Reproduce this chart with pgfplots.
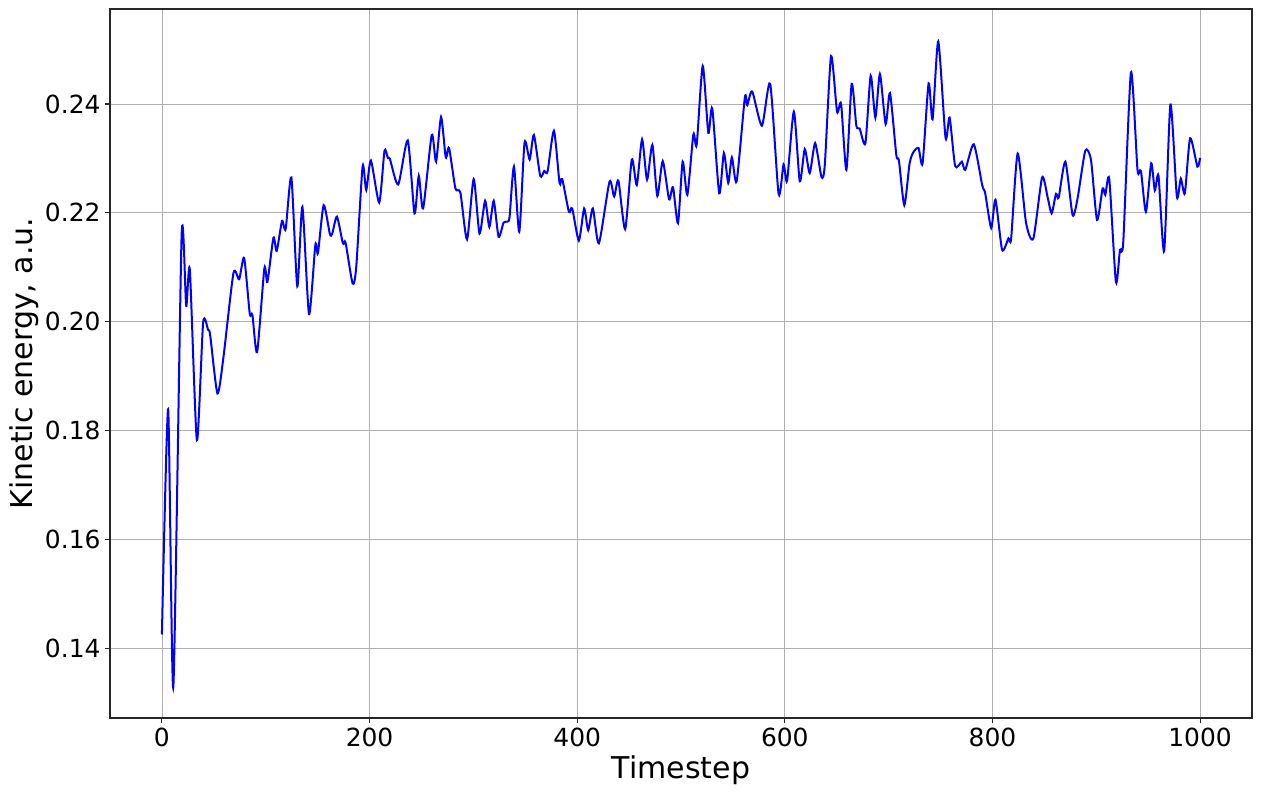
\documentclass[border=0pt]{standalone}
\usepackage{fontspec}
\setmainfont{DejaVu Sans}
\usepackage{pgfplots}
\pgfplotsset{compat=1.18}
\definecolor{GridGray}{HTML}{B0B0B0}
\definecolor{LineBlue}{HTML}{0000FF}

\begin{document}
\begin{tikzpicture}
  \begin{axis}[
    name=ax,
    width=856.5pt, height=531.75pt,
    scale only axis,
    xmin=-50, xmax=1050,
    ymin=0.12715, ymax=0.25746,
    xtick={0,200,...,1000},
    ytick={0.14,0.16,0.18,0.20,0.22,0.24},
    xticklabel style={/pgf/number format/.cd, 1000 sep={}},
    yticklabel style={/pgf/number format/.cd, fixed, fixed zerofill, precision=2},
    /pgf/number format/assume math mode=true,
    tick label style={font=\fontsize{18.7}{22}\selectfont},
    label style={font=\fontsize{22.5}{27}\selectfont},
    xlabel={Timestep},
    ylabel={Kinetic energy, a.u.},
    xlabel style={at={(axis description cs:0.5,-0.0733)}, anchor=center},
    ylabel style={at={(axis description cs:-0.0755,0.5)}, anchor=center},
    grid=major,
    major grid style={GridGray, line width=0.6pt},
    axis line style={black!85, line width=0.8pt},
    tick align=outside,
    major tick length=3.6pt,
    tick style={black!85, line width=0.8pt},
    xtick pos=bottom, ytick pos=left,
    clip=true,
  ]
    \addplot[LineBlue, line width=1.5pt, smooth, tension=0.4] coordinates {
      (0,0.1425) (6,0.1839) (11,0.1329) (19,0.2159) (23.4,0.2029) (26.9,0.2095)
      (33.7,0.1782) (39.7,0.1998) (44.5,0.1985) (46.5,0.1975) (53.5,0.1868)
      (59.3,0.1935) (68.9,0.2089) (74.4,0.2078) (79.2,0.2117) (84.6,0.2015)
      (87.2,0.2012) (91.7,0.1944) (98.7,0.2098) (101.6,0.2073) (107.4,0.2154)
      (110.6,0.2130) (115.7,0.2185) (119.2,0.2170) (124.7,0.2265) (130.4,0.2065)
      (135.3,0.2211) (141.7,0.2014) (147.8,0.2141) (150.3,0.2126) (155.8,0.2214)
      (161.8,0.2161) (164.1,0.2162) (168.6,0.2193) (174.3,0.2144) (176.9,0.2145)
      (183.7,0.2070) (187.2,0.2101) (193.3,0.2285) (196.8,0.2242) (201.3,0.2296)
      (209.3,0.2219) (214.4,0.2314) (217.6,0.2301) (219.6,0.2299) (227.6,0.2252)
      (236.8,0.2333) (243.3,0.2199) (247.4,0.2268) (251.6,0.2208) (259.9,0.2343)
      (264.1,0.2294) (268.9,0.2376) (273.4,0.2302) (276.6,0.2319) (282.7,0.2245)
      (287.5,0.2237) (293.9,0.2151) (300.3,0.2262) (305.9,0.2162) (311.3,0.2222)
      (315.4,0.2174) (319.6,0.2222) (324.3,0.2156) (329.1,0.2182) (333,0.2184)
      (334.9,0.2193) (339.1,0.2285) (344.2,0.2165) (349.3,0.2329) (354.2,0.2298)
      (358.3,0.2343) (364.4,0.2268) (368.3,0.2277) (371.5,0.2276) (377.6,0.2351)
      (383,0.2255) (385.6,0.2262) (392,0.2202) (395.2,0.2208) (401.6,0.2149)
      (406.7,0.2208) (410.6,0.2168) (415.1,0.2208) (420.9,0.2144) (431.1,0.2257)
      (435.6,0.2230) (439.7,0.2259) (446.2,0.2170) (452.6,0.2298) (457.4,0.2251)
      (462.5,0.2335) (467.3,0.2261) (472.4,0.2325) (477.2,0.2231) (482.4,0.2295)
      (488.5,0.2225) (492.3,0.2247) (497.1,0.2181) (501.6,0.2294) (506.1,0.2233)
      (511.9,0.2344) (515.1,0.2325) (520.9,0.2470) (526.3,0.2347) (530.1,0.2392)
      (536.8,0.2236) (541.3,0.2310) (545.5,0.2255) (549,0.2302) (553.6,0.2258)
      (561.5,0.2412) (563.8,0.2398) (568.6,0.2423) (577.9,0.2360) (585.9,0.2437)
      (594,0.2235) (598.8,0.2289) (602.2,0.2259) (608.7,0.2386) (614.4,0.2258)
      (619.2,0.2317) (624,0.2273) (629.2,0.2328) (635.3,0.2266) (638.5,0.2288)
      (644.5,0.2488) (650.3,0.2386) (654.2,0.2400) (659.3,0.2279) (664.4,0.2437)
      (668.9,0.2360) (672.1,0.2355) (677.6,0.2328) (682.7,0.2452) (687.2,0.2375)
      (691.6,0.2455) (697.1,0.2363) (701.3,0.2420) (707.4,0.2306) (709.9,0.2296)
      (715.1,0.2214) (720.2,0.2291) (724,0.2312) (728.8,0.2319) (732.7,0.2291)
      (738.5,0.2438) (742.3,0.2372) (747.8,0.2515) (754.8,0.2338) (758.7,0.2375)
      (764.1,0.2286) (770.5,0.2294) (773.8,0.2279) (782,0.2326) (790.1,0.2251)
      (793,0.2236) (798.8,0.2172) (802.9,0.2224) (809.3,0.2132) (815.4,0.2153)
      (818,0.2153) (824.3,0.2309) (832.4,0.2181) (839.4,0.2153) (847.8,0.2265)
      (853.2,0.2228) (857,0.2199) (861.2,0.2235) (863.8,0.2228) (870.2,0.2294)
      (877.2,0.2196) (882,0.2227) (889.4,0.2314) (894.9,0.2297) (900.7,0.2187)
      (906.1,0.2245) (908.7,0.2233) (912.5,0.2262) (918.9,0.2073) (922.8,0.2132)
      (926,0.2147) (933.4,0.2458) (939.7,0.2279) (943,0.2277) (947.8,0.2202)
      (952.9,0.2291) (956.4,0.2241) (959.9,0.2268) (965.4,0.2130) (971.4,0.2399)
      (977.6,0.2230) (981.4,0.2263) (985.3,0.2236) (990.4,0.2337) (997.4,0.2285)
      (1000,0.2301)
    };
  \end{axis}
  % page margins as in the reference
  \path (ax.south west) ++(-82.5pt,-59.25pt);
  \path (ax.north east) ++(7.5pt,6.75pt);
\end{tikzpicture}
\end{document}
